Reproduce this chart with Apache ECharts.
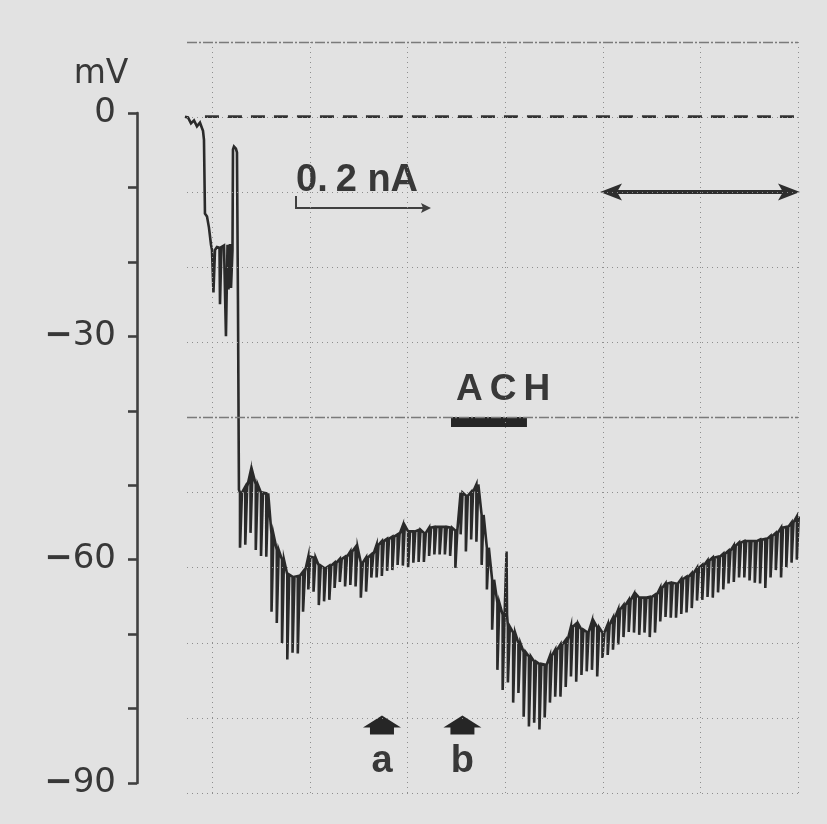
<!DOCTYPE html>
<html>
<head>
<meta charset="utf-8">
<script src="https://cdn.jsdelivr.net/npm/echarts@6/dist/echarts.min.js"></script>
<style>
  html, body { margin: 0; padding: 0; background: #e2e2e2; }
  #chart { width: 827px; height: 824px; }
</style>
</head>
<body>
<div id="chart"></div>
<script>
// Intracellular recording: membrane potential (mV) against time (s).
// One chart-paper division = 10 s.

// Electrode entry, before the regular current pulses start: [time s, mV]
const entryTrace = [
  [-2.79, -0.5], [-2.48, -0.6], [-2.17, -1.4], [-1.86, -1.0], [-1.56, -1.8],
  [-1.25, -1.3], [-0.94, -2.4], [-0.84, -3.6], [-0.74, -13.5], [-0.53, -13.9],
  [-0.33, -15.4], [-0.12, -17.7], [-0.02, -18.4], [0.08, -18.4], [0.13, -24.1],
  [0.24, -24.1], [0.29, -18.4], [0.49, -18.0], [0.75, -18.1], [0.80, -25.7],
  [0.90, -25.7], [0.95, -18.0], [1.21, -17.8], [1.36, -17.8], [1.41, -30.0],
  [1.52, -30.0], [1.57, -17.7], [1.67, -23.7], [1.77, -23.7], [1.82, -17.6],
  [1.93, -23.5], [2.03, -23.5], [2.08, -18.4], [2.13, -4.9], [2.23, -4.5],
  [2.43, -4.8], [2.54, -5.3], [2.64, -25.1], [2.74, -50.6]
];

// Hyperpolarising current pulses (0.2 nA) delivered at a fixed rate
const pulseStart = 2.85;   // s
const pulsePeriod = 0.538; // s
const pulseWidth = 0.2;    // s

// Membrane potential just before each pulse (mV)
const restMv = [
  -51.0, -50.2, -48.2, -49.9, -51.0, -51.1, -56.6, -58.7, -60.0, -62.0,
  -62.3, -62.2, -61.6, -59.6, -59.7, -60.8, -61.1, -60.8, -60.4, -59.9,
  -59.6, -58.9, -58.3, -60.4, -59.7, -59.3, -58.0, -57.5, -57.2, -56.9,
  -56.6, -55.4, -56.2, -56.2, -56.0, -56.4, -55.7, -55.6, -55.6, -55.6,
  -55.7, -56.1, -51.0, -51.4, -50.9, -49.9, -54.0, -58.4, -62.7, -65.8,
  -67.4, -69.0, -69.8, -71.2, -72.4, -73.0, -73.7, -74.0, -74.1, -72.9,
  -72.1, -71.4, -70.8, -69.0, -68.6, -69.4, -69.7, -68.3, -69.1, -69.8,
  -68.7, -67.8, -66.7, -66.1, -65.4, -64.6, -65.1, -65.1, -65.0, -64.7,
  -63.8, -63.2, -63.1, -63.2, -62.6, -62.3, -61.8, -61.1, -60.7, -60.1,
  -59.7, -59.6, -59.2, -58.8, -58.1, -57.7, -57.5, -57.5, -57.5, -57.3,
  -57.2, -56.8, -56.4, -55.7, -55.6, -55.0, -54.2
];

// Potential reached at the end of each pulse (mV)
const pulseMv = [
  -58.4, -58.0, -56.4, -58.7, -59.5, -59.6, -67.0, -68.5, -71.2, -73.4,
  -72.5, -72.6, -67.0, -64.0, -64.3, -66.1, -65.6, -65.4, -63.8, -63.0,
  -63.6, -63.4, -63.6, -65.1, -64.3, -62.4, -62.4, -62.2, -61.5, -61.4,
  -60.7, -60.8, -61.0, -60.4, -60.3, -60.3, -59.5, -59.3, -59.3, -59.3,
  -59.5, -61.1, -56.6, -58.9, -57.3, -57.6, -60.7, -64.0, -69.4, -74.8,
  -77.5, -76.5, -79.2, -77.9, -81.1, -82.4, -81.9, -82.8, -81.2, -79.2,
  -78.4, -78.4, -77.1, -75.7, -76.4, -75.5, -75.0, -74.8, -75.7, -73.2,
  -72.8, -72.1, -71.4, -70.4, -69.7, -69.8, -70.1, -69.8, -70.4, -69.8,
  -68.3, -67.7, -67.8, -67.8, -67.3, -67.1, -66.5, -65.5, -65.4, -65.0,
  -65.1, -64.4, -64.0, -63.2, -63.0, -62.4, -62.4, -62.8, -63.1, -63.2,
  -63.8, -62.4, -61.4, -62.4, -61.0, -60.4, -60.0
];

// Brief artefact on the trace
const artefactT = [30.15];
const artefactMv = [-58.9];

// Zero-potential reference (dashed)
const zeroRef = [[-0.74, -0.5], [60, -0.5]];

// Acetylcholine application
const achStart = 24.46, achEnd = 32.24, achLevel = -41.5;

// Sampling instants a and b
const markNames = ['a', 'b'];
const markT = [17.39, 25.63];
const markLevel = -82.2;

// Y axis ticks
const yMin = -90, yMax = 0, yTick = 10, yLabelStep = 30;

// Chart-paper rulings
const paperCols = [0, 10, 20, 30, 40, 50, 60];
const paperRows = [0, 1, 2, 3, 4, 5, 6, 7, 8, 9, 10];
const paperBold = [5, 10];

// Build the pen trace: baseline, then a narrow downward deflection per pulse
const trace = entryTrace.map(p => p.slice());
restMv.forEach((v, k) => {
  const t = pulseStart + k * pulsePeriod;
  trace.push([t, v], [t, pulseMv[k]], [t + pulseWidth, pulseMv[k]], [t + pulseWidth, v]);
  artefactT.forEach((at, j) => {
    if (at > t + pulseWidth && at < t + pulsePeriod) {
      trace.push([at, v], [at, artefactMv[j]], [at + 0.05, v]);
    }
  });
});

const ink = '#2a2a2a';
const textInk = '#383838';

const chart = echarts.init(document.getElementById('chart'), null, { renderer: 'canvas' });

chart.setOption({
  backgroundColor: '#e2e2e2',
  animation: false,
  grid: [
    { left: 137, right: 29, top: 113, bottom: 41 },
    { left: 187, right: 29, top: 42, bottom: 31 }
  ],
  xAxis: [
    { gridIndex: 0, type: 'value', min: -7.7, max: 60, show: false },
    { gridIndex: 1, type: 'value', min: -2.6, max: 60, show: false }
  ],
  yAxis: [
    {
      gridIndex: 0, type: 'value', min: yMin, max: yMax, interval: yTick,
      axisLine: { show: true, onZero: false, lineStyle: { color: '#404040', width: 2.6 } },
      axisTick: { show: true, length: 9, lineStyle: { color: '#404040', width: 2.6 } },
      splitLine: { show: false },
      axisLabel: {
        margin: 21,
        formatter: v => {
          if (v % yLabelStep !== 0) return '';
          return v < 0 ? '{m|\u2212}{n|' + Math.abs(v) + '}' : '{n|' + v + '}';
        },
        rich: {
          n: { fontFamily: 'DejaVu Sans', fontSize: 34, color: textInk },
          m: { fontFamily: 'DejaVu Sans', fontSize: 34, fontWeight: 'bold', color: textInk }
        }
      }
    },
    { gridIndex: 1, type: 'value', min: 0, max: 10, show: false }
  ],
  series: [
    {
      // chart-paper rulings
      type: 'line', xAxisIndex: 1, yAxisIndex: 1, data: [],
      silent: true,
      markLine: {
        silent: true, symbol: 'none', label: { show: false }, animation: false,
        data: [
          ...paperCols.map(c => ({ xAxis: c, lineStyle: { color: '#8e8e8e', width: 1, type: [1, 4] } })),
          ...paperRows.map(r => ({
            yAxis: r,
            lineStyle: paperBold.includes(r)
              ? { color: '#7a7a7a', width: 1.4, type: [10, 2, 2, 2] }
              : { color: '#8e8e8e', width: 1, type: [1, 4] }
          }))
        ]
      }
    },
    {
      type: 'line', data: zeroRef, symbol: 'none', silent: true,
      lineStyle: { color: '#333333', width: 2.8, type: [14, 9] }
    },
    {
      type: 'line', data: trace, symbol: 'none', showSymbol: false, silent: true,
      sampling: null,
      lineStyle: { color: ink, width: 2.6, join: 'miter' }
    },
    {
      type: 'line', data: [[achStart, achLevel], [achEnd, achLevel]], symbol: 'none', silent: true,
      lineStyle: { color: '#262626', width: 10, cap: 'butt' }
    },
    {
      type: 'scatter',
      data: markT.map((t, i) => ({ name: markNames[i], value: [t, markLevel] })),
      symbol: 'path://M0,12 L19,0 L38,12 L31,12 L31,19 L7,19 L7,12 Z',
      symbolSize: [38, 19],
      itemStyle: { color: '#262626', opacity: 1 },
      silent: true,
      label: {
        show: true, position: 'bottom', distance: 8,
        formatter: '{b}',
        fontFamily: 'Liberation Sans', fontWeight: 'bold', fontSize: 38, color: textInk
      }
    }
  ],
  graphic: [
    {
      type: 'text', x: 101, y: 74,
      style: { text: 'mV', font: '33px "DejaVu Sans"', fill: textInk, align: 'center', verticalAlign: 'middle' }
    },
    {
      type: 'text', x: 296, y: 181,
      style: {
        text: '{a|0.}{b|2 nA}', align: 'left', verticalAlign: 'middle',
        rich: {
          a: { fontFamily: 'Liberation Sans', fontWeight: 'bold', fontSize: 38, fill: textInk, color: textInk, padding: [0, 8, 0, 0] },
          b: { fontFamily: 'Liberation Sans', fontWeight: 'bold', fontSize: 38, fill: textInk, color: textInk }
        }
      }
    },
    {
      type: 'polyline',
      shape: { points: [[296, 196], [296, 208], [427, 208]] },
      style: { stroke: '#404040', lineWidth: 2, fill: null }
    },
    {
      type: 'polygon',
      shape: { points: [[431, 208], [421, 203], [423, 208], [421, 213]] },
      style: { fill: '#404040' }
    },
    {
      type: 'line',
      shape: { x1: 612, y1: 192, x2: 788, y2: 192 },
      style: { stroke: '#2e2e2e', lineWidth: 4 }
    },
    {
      type: 'polygon',
      shape: { points: [[600, 192], [622, 183.5], [617, 192], [622, 200.5]] },
      style: { fill: '#2e2e2e' }
    },
    {
      type: 'polygon',
      shape: { points: [[800, 192], [778, 183.5], [783, 192], [778, 200.5]] },
      style: { fill: '#2e2e2e' }
    },
    {
      type: 'text', x: 453, y: 390,
      style: {
        text: '{l|A}{l|C}{l|H}', align: 'left', verticalAlign: 'middle',
        rich: {
          l: { fontFamily: 'Liberation Sans', fontWeight: 'bold', fontSize: 37, color: textInk, fill: textInk, padding: [0, 4, 0, 3] }
        }
      }
    }
  ]
});
</script>
</body>
</html>
